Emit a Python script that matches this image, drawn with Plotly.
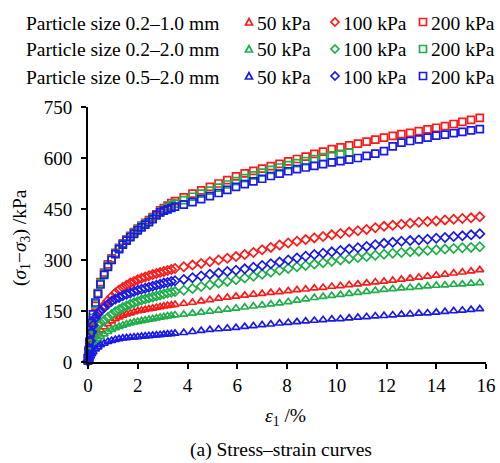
import plotly.graph_objects as go

# ---------------- data ----------------
strain = [0, 0.03, 0.06, 0.1, 0.15, 0.2, 0.3, 0.4, 0.5, 0.65, 0.8, 0.95, 1.1, 1.25, 1.4, 1.55, 1.7, 1.85,
          2.0, 2.15, 2.3, 2.45, 2.6, 2.75, 2.9, 3.05, 3.2, 3.35, 3.5,
          3.85, 4.2, 4.55, 4.9, 5.25, 5.6, 5.95, 6.3, 6.65, 7.0, 7.35, 7.7, 8.05, 8.4, 8.75, 9.1, 9.45, 9.8,
          10.15, 10.5, 10.85, 11.2, 11.55, 11.9, 12.25, 12.6, 12.95, 13.3, 13.65, 14.0, 14.35, 14.7, 15.05,
          15.4, 15.75]

# Particle size 0.2-1.0 mm (red)
r50 = [2, 12, 22, 35, 48, 60, 76, 87, 94, 103, 112, 120, 127, 132, 137, 141, 144, 147,
       150, 152, 154, 156, 158, 160, 162, 164, 166, 167, 169,
       172, 175, 179, 183, 187, 190, 193, 196, 199, 201, 204, 206, 209, 212, 214, 217, 219, 222,
       224, 227, 229, 232, 235, 237, 240, 243, 246, 249, 252, 255, 258, 261, 264, 267, 271]
r100 = [3, 20, 35, 55, 78, 97, 122, 140, 152, 167, 180, 192, 203, 212, 219, 226, 232, 237,
        242, 246, 250, 254, 257, 260, 263, 266, 269, 272, 275,
        280, 285, 290, 295, 300, 305, 310, 316, 322, 330, 337, 344, 350, 355, 360, 365, 369, 374,
        378, 382, 386, 390, 395, 399, 402, 405, 408, 411, 413, 415, 418, 420, 422, 424, 427]
r200 = [5, 30, 50, 72, 98, 122, 165, 203, 235, 263, 287, 305, 321, 336, 349, 361, 371, 382,
        392, 401, 409, 417, 426, 434, 446, 453, 460, 467, 473,
        484, 495, 505, 515, 525, 535, 546, 555, 562, 569, 576, 583, 590, 597, 604, 612, 619, 626,
        631, 637, 642, 648, 654, 660, 665, 670, 674, 679, 684, 689, 694, 700, 706, 712, 718]

# Particle size 0.2-2.0 mm (green)
g50 = [2, 10, 18, 28, 38, 47, 60, 69, 75, 82, 89, 95, 100, 104, 108, 111, 114, 117,
       119, 121, 123, 125, 127, 129, 131, 133, 135, 136, 138,
       140, 143, 146, 149, 152, 155, 158, 161, 164, 167, 170, 173, 177, 181, 185, 189, 192, 195,
       198, 201, 204, 207, 210, 213, 215, 217, 219, 221, 223, 225, 226, 228, 229, 231, 233]
g100 = [2, 15, 28, 42, 60, 75, 95, 108, 115, 122, 131, 140, 148, 154, 160, 165, 170, 174,
        178, 182, 185, 188, 191, 194, 197, 200, 203, 205, 207,
        211, 216, 222, 227, 232, 237, 242, 247, 252, 258, 264, 270, 275, 280, 284, 288, 292, 296,
        300, 304, 307, 310, 314, 317, 320, 322, 324, 326, 328, 330, 332, 334, 336, 337, 339]
g200 = [5, 32, 55, 78, 106, 130, 170, 201, 231, 259, 283, 302, 319, 334, 347, 359, 369, 380,
        390, 399, 407, 414, 423, 431, 441, 448, 455, 461, 466,
        476, 486, 495, 504, 513, 522, 532, 541, 549, 557, 565, 572, 579, 585, 591, 597, 603, 608,
        612, 616]

# Particle size 0.5-2.0 mm (blue)
b50 = [1, 6, 11, 17, 24, 30, 38, 44, 50, 55, 60, 63, 66, 68, 70, 71, 72, 73,
       74, 75, 76, 77, 78, 79, 80, 81, 82, 83, 84,
       86, 89, 92, 95, 97, 99, 101, 104, 106, 109, 111, 114, 116, 118, 120, 122, 124, 126,
       127, 129, 131, 133, 135, 136, 138, 140, 141, 143, 144, 146, 148, 150, 152, 154, 156]
b100 = [3, 22, 40, 62, 88, 108, 130, 143, 150, 160, 170, 179, 185, 190, 195, 199, 203, 207,
        211, 214, 217, 220, 223, 226, 229, 232, 234, 237, 239,
        243, 248, 253, 258, 262, 266, 270, 274, 279, 284, 289, 294, 300, 306, 311, 316, 320, 324,
        328, 332, 336, 340, 345, 349, 352, 355, 357, 359, 361, 364, 366, 369, 371, 374, 377]
b200 = [5, 35, 60, 85, 115, 140, 175, 200, 228, 256, 280, 300, 317, 332, 345, 357, 367, 377,
        387, 396, 404, 411, 420, 432, 440, 445, 449, 453, 457,
        463, 470, 479, 488, 497, 506, 515, 523, 531, 539, 547, 554, 561, 567, 572, 577, 582, 587,
        591, 595, 600, 606, 613, 620, 634, 645, 650, 655, 660, 666, 669, 673, 677, 681, 685]

size_labels = ["Particle size 0.2\u20131.0 mm", "Particle size 0.2\u20132.0 mm", "Particle size 0.5\u20132.0 mm"]
pressure_labels = ["50 kPa", "100 kPa", "200 kPa"]
colors = ["#ff1a1a", "#1fae4a", "#1a1ae6"]
symbols = ["triangle-up-open", "diamond-open", "square-open"]

series = [[r50, r100, r200], [g50, g100, g200], [b50, b100, b200]]

FONT = "Liberation Serif, Times New Roman, serif"
FS = 19.5

W, H = 500, 463
L, R, T, B = 88, 14, 107, 101
PW, PH = W - L - R, H - T - B


def px2paper(px, py):
    return (px - L) / PW, (H - B - py) / PH


fig = go.Figure()
for i, group in enumerate(series):
    for j, ys in enumerate(group):
        fig.add_trace(go.Scatter(
            x=strain[:len(ys)], y=ys, mode="markers",
            marker=dict(symbol=symbols[j], size=7, color=colors[i],
                        line=dict(width=1.7, color=colors[i])),
            cliponaxis=False, showlegend=False))

# ----- custom legend (symbols drawn as pixel-sized shapes anchored in paper space) -----
sym_paths = [
    "M -3.5,-3 L 3.5,-3 L 0,3.5 Z",      # triangle up
    "M 0,-4 L 4,0 L 0,4 L -4,0 Z",       # diamond
    "M -3.5,-3.5 L 3.5,-3.5 L 3.5,3.5 L -3.5,3.5 Z",  # square
]
leg_x = [249, 335, 423]
leg_y = [22, 49, 76]
for i in range(3):
    for j in range(3):
        ax, ay = px2paper(leg_x[j], leg_y[i])
        fig.add_shape(type="path", xref="paper", yref="paper", xsizemode="pixel", ysizemode="pixel",
                      xanchor=ax, yanchor=ay, path=sym_paths[j],
                      line=dict(color=colors[i], width=1.7), fillcolor="rgba(0,0,0,0)")
        tx, ty = px2paper(leg_x[j] + 6, leg_y[i] + 1)
        fig.add_annotation(x=tx, y=ty, xref="paper", yref="paper", text=pressure_labels[j],
                           showarrow=False, xanchor="left", yanchor="middle",
                           font=dict(family=FONT, size=FS, color="black"))
    tx, ty = px2paper(24, leg_y[i] + 1)
    fig.add_annotation(x=tx, y=ty, xref="paper", yref="paper", text=size_labels[i],
                       showarrow=False, xanchor="left", yanchor="middle",
                       font=dict(family=FONT, size=FS, color="black"))

tx, ty = px2paper(285, 417)
fig.add_annotation(x=tx, y=ty, xref="paper", yref="paper", text="<i>\u03b5</i><sub>1</sub> /%",
                   showarrow=False, xanchor="center", yanchor="middle",
                   font=dict(family=FONT, size=FS, color="black"))
tx, ty = px2paper(281, 450)
fig.add_annotation(x=tx, y=ty, xref="paper", yref="paper", text="(a) Stress\u2013strain curves",
                   showarrow=False, xanchor="center", yanchor="middle",
                   font=dict(family=FONT, size=FS, color="black"))
tx, ty = px2paper(21, 238)
fig.add_annotation(x=tx, y=ty, xref="paper", yref="paper",
                   text="(<i>\u03c3</i><sub>1</sub>\u2212<i>\u03c3</i><sub>3</sub>) /kPa",
                   showarrow=False, xanchor="center", yanchor="middle", textangle=-90,
                   font=dict(family=FONT, size=FS, color="black"))

fig.update_layout(
    width=W, height=H, margin=dict(l=L, r=R, t=T, b=B, pad=0, autoexpand=False),
    paper_bgcolor="white", plot_bgcolor="white", showlegend=False,
    font=dict(family=FONT, size=FS, color="black"),
    xaxis=dict(range=[0, 16], dtick=2, tick0=0, showgrid=False, automargin=False,
               zeroline=False, showline=True, linecolor="black", linewidth=2, ticks="outside",
               ticklen=5, tickwidth=1.5, tickcolor="black",
               tickfont=dict(family=FONT, size=19, color="black")),
    yaxis=dict(range=[0, 750], dtick=150, tick0=0, showgrid=False, automargin=False,
               zeroline=False, showline=True, linecolor="black", linewidth=2, ticks="outside",
               ticklen=5, tickwidth=1.5, tickcolor="black", ticklabelstandoff=5,
               tickfont=dict(family=FONT, size=19, color="black")),
)

fig.write_html("out.html")
